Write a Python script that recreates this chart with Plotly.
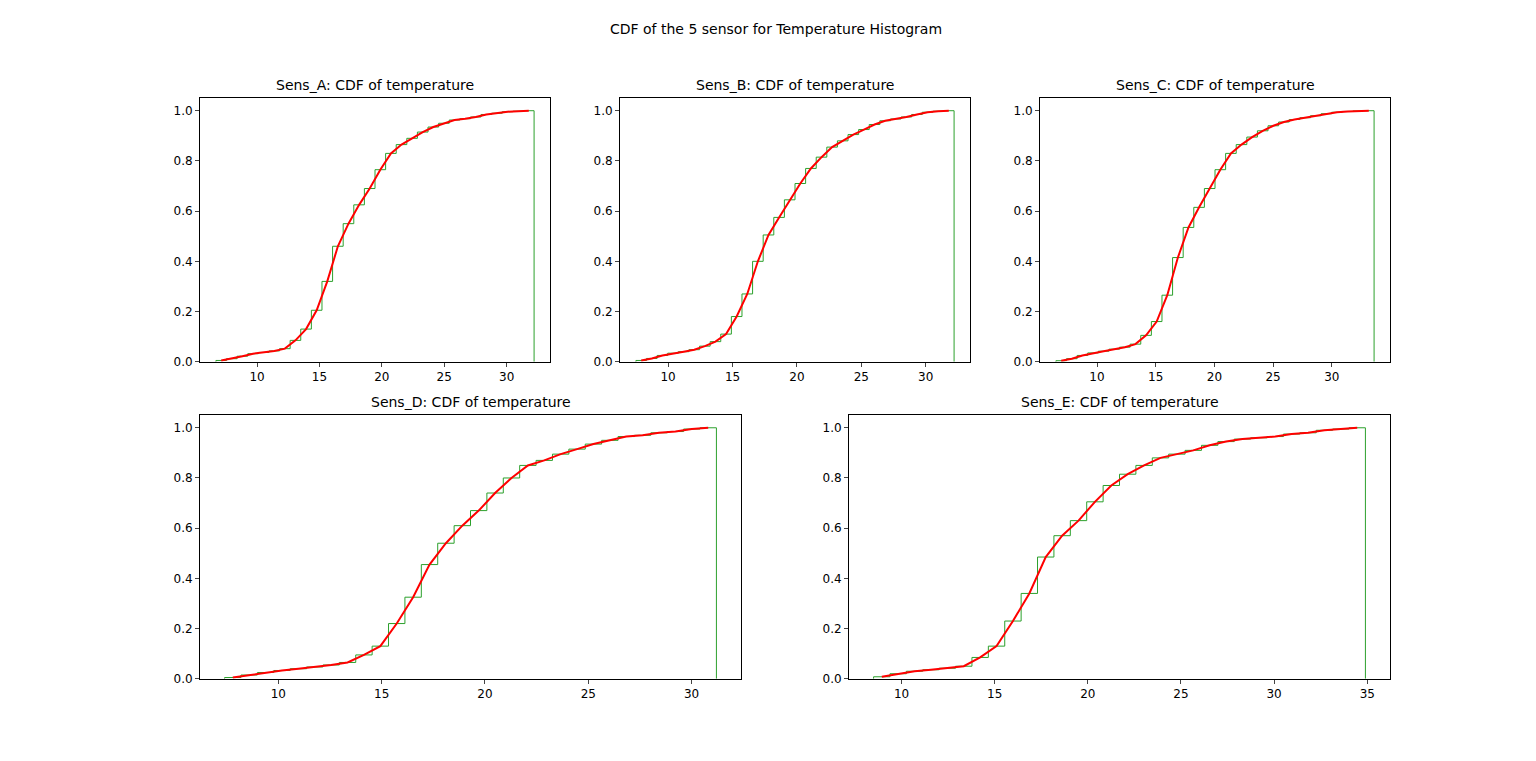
import numpy as np
import plotly.graph_objects as go

# Sensor names and histogram ranges (min, max of temperature)
sensors = ["Sens_A", "Sens_B", "Sens_C", "Sens_D", "Sens_E"]
lows = [6.7, 7.5, 6.5, 7.4, 8.5]
highs = [32.2, 32.2, 33.6, 31.2, 34.9]

# Cumulative fractions per bin (30 bins)
cdf_a = [0.005, 0.012, 0.022, 0.032, 0.037, 0.043, 0.052, 0.085, 0.13, 0.205,
         0.32, 0.46, 0.55, 0.625, 0.69, 0.765, 0.83, 0.865, 0.89, 0.915,
         0.935, 0.95, 0.963, 0.968, 0.975, 0.985, 0.99, 0.996, 0.998, 1.0]
cdf_b = [0.005, 0.013, 0.025, 0.034, 0.04, 0.048, 0.062, 0.08, 0.11, 0.18,
         0.27, 0.40, 0.505, 0.575, 0.645, 0.71, 0.77, 0.815, 0.855, 0.88,
         0.905, 0.925, 0.945, 0.96, 0.967, 0.975, 0.985, 0.994, 0.998, 1.0]
cdf_c = [0.004, 0.012, 0.025, 0.035, 0.042, 0.05, 0.058, 0.07, 0.105, 0.16,
         0.265, 0.415, 0.535, 0.615, 0.69, 0.765, 0.83, 0.865, 0.895, 0.92,
         0.94, 0.955, 0.965, 0.972, 0.98, 0.988, 0.994, 0.997, 0.999, 1.0]
cdf_d = [0.005, 0.015, 0.025, 0.033, 0.04, 0.047, 0.055, 0.065, 0.095, 0.13,
         0.22, 0.325, 0.455, 0.54, 0.61, 0.67, 0.74, 0.80, 0.85, 0.87,
         0.895, 0.915, 0.935, 0.95, 0.965, 0.97, 0.98, 0.985, 0.995, 1.0]
cdf_e = [0.008, 0.02, 0.03, 0.036, 0.042, 0.05, 0.085, 0.13, 0.23, 0.34,
         0.485, 0.57, 0.63, 0.705, 0.77, 0.815, 0.85, 0.88, 0.895, 0.91,
         0.93, 0.945, 0.955, 0.96, 0.965, 0.975, 0.98, 0.99, 0.995, 1.0]
cdfs = [cdf_a, cdf_b, cdf_c, cdf_d, cdf_e]

W, H = 1536, 761
# axes boxes in pixels: (left, right, top, bottom)
boxes = [(192, 542, 91, 357), (612, 962, 91, 357), (1032, 1382, 91, 357),
         (192, 733, 411, 677), (841, 1382, 411, 677)]

fig = go.Figure()
layout = dict(width=W, height=H, plot_bgcolor="white", paper_bgcolor="white",
              showlegend=False, margin=dict(l=0, r=0, t=0, b=0),
              font=dict(family="DejaVu Sans", size=13, color="black"))
annotations = [dict(text="CDF of the 5 sensor for Temperature Histogram",
                    x=0.5, y=1 - 21 / H, xref="paper", yref="paper",
                    xanchor="center", showarrow=False, font=dict(size=14),
                    yanchor="middle")]

for i, (name, lo, hi, c) in enumerate(zip(sensors, lows, highs, cdfs)):
    n = i + 1
    xa = "x" if n == 1 else f"x{n}"
    ya = "y" if n == 1 else f"y{n}"
    edges = np.linspace(lo, hi, len(c) + 1)
    centers = (edges[:-1] + edges[1:]) / 2
    sx = [edges[0]] + list(edges[:-1]) + [edges[-1], edges[-1]]
    sy = [0] + c + [c[-1], 0]
    fig.add_trace(go.Scatter(x=sx, y=sy, mode="lines", line_shape="hv",
                             line=dict(color="#2ca02c", width=1),
                             xaxis=xa, yaxis=ya))
    fig.add_trace(go.Scatter(x=centers, y=c, mode="lines",
                             line=dict(color="red", width=2),
                             xaxis=xa, yaxis=ya))
    l, r, t, b = boxes[i]
    span = hi - lo
    axkw = dict(showline=True, linecolor="black", linewidth=1, mirror=True,
                ticks="outside", ticklen=4, showgrid=False, zeroline=False,
                tickfont=dict(size=12))
    layout["xaxis" if n == 1 else f"xaxis{n}"] = dict(
        domain=[l / W, r / W], anchor=ya, dtick=5,
        range=[lo - 0.05 * span, hi + 0.05 * span], **axkw)
    layout["yaxis" if n == 1 else f"yaxis{n}"] = dict(
        domain=[1 - b / H, 1 - t / H], anchor=xa, range=[0, 1.05],
        dtick=0.2, tickformat=".1f", **axkw)
    annotations.append(dict(text=f"{name}: CDF of temperature",
                            x=(l + r) / 2 / W, y=1 - (t - 13) / H,
                            xref="paper", yref="paper", xanchor="center",
                            showarrow=False, font=dict(size=14),
                            yanchor="middle"))

layout["annotations"] = annotations
fig.update_layout(**layout)
fig.write_html("out.html")
